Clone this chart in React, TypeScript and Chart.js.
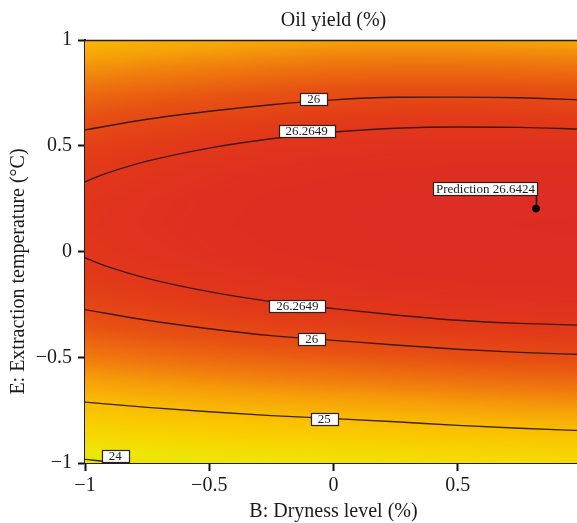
import React, { useEffect, useRef } from "react";
import { Chart, registerables } from "chart.js";

Chart.register(...registerables);

const SERIF = '"Liberation Serif", "DejaVu Serif", "Times New Roman", serif';

// Coded factor levels of the fitted surface
const dryness = [-1, -0.75, -0.5, -0.25, 0, 0.25, 0.5, 0.75, 1];
const temperature = [1, 0.875, 0.75, 0.625, 0.5, 0.375, 0.25, 0.125, 0, -0.125, -0.25, -0.375, -0.5, -0.625, -0.75, -0.875, -1];

// Oil yield (%) — one row per temperature level, one value per dryness level
const yieldRows = [
  [25.04, 25.12, 25.18, 25.24, 25.29, 25.31, 25.30, 25.28, 25.25],
  [25.39, 25.47, 25.53, 25.59, 25.64, 25.66, 25.66, 25.64, 25.62],
  [25.68, 25.76, 25.83, 25.89, 25.93, 25.96, 25.96, 25.95, 25.93],
  [25.92, 26.00, 26.07, 26.12, 26.17, 26.20, 26.20, 26.20, 26.18],
  [26.10, 26.18, 26.25, 26.31, 26.35, 26.38, 26.39, 26.39, 26.38],
  [26.23, 26.31, 26.38, 26.44, 26.48, 26.51, 26.53, 26.53, 26.53],
  [26.30, 26.38, 26.45, 26.51, 26.55, 26.59, 26.61, 26.62, 26.61],
  [26.32, 26.40, 26.47, 26.53, 26.57, 26.61, 26.63, 26.64, 26.65],
  [26.28, 26.36, 26.43, 26.49, 26.53, 26.57, 26.60, 26.62, 26.62],
  [26.19, 26.27, 26.33, 26.39, 26.44, 26.48, 26.51, 26.53, 26.54],
  [26.04, 26.12, 26.18, 26.24, 26.29, 26.33, 26.37, 26.39, 26.41],
  [25.83, 25.91, 25.98, 26.04, 26.08, 26.13, 26.17, 26.20, 26.22],
  [25.57, 25.65, 25.72, 25.77, 25.82, 25.87, 25.91, 25.95, 25.97],
  [25.25, 25.33, 25.40, 25.46, 25.50, 25.55, 25.60, 25.64, 25.67],
  [24.88, 24.96, 25.03, 25.08, 25.13, 25.18, 25.24, 25.28, 25.31],
  [24.45, 24.53, 24.60, 24.66, 24.70, 24.76, 24.82, 24.86, 24.90],
  [23.95, 24.05, 24.12, 24.17, 24.22, 24.27, 24.34, 24.39, 24.43],
];

// Colour scale for the yield surface
const colorLevels = [23.9, 24.2, 24.5, 24.8, 25.0, 25.3, 25.6, 25.9, 26.2, 26.45, 26.7];
const colorRgb = [
  [226, 232, 0],
  [238, 229, 6],
  [246, 215, 0],
  [249, 200, 0],
  [249, 188, 3],
  [246, 160, 8],
  [239, 118, 14],
  [231, 80, 19],
  [226, 57, 25],
  [223, 47, 32],
  [221, 44, 35],
];

// Contour lines (B, E)
const contour26Upper = [
  { x: -1, y: 0.575 }, { x: -0.75, y: 0.625 }, { x: -0.5, y: 0.663 }, { x: -0.25, y: 0.694 },
  { x: 0, y: 0.717 }, { x: 0.25, y: 0.729 }, { x: 0.5, y: 0.73 }, { x: 0.75, y: 0.727 }, { x: 1, y: 0.717 },
];
const contour26Lower = [
  { x: -1, y: -0.275 }, { x: -0.75, y: -0.325 }, { x: -0.5, y: -0.365 }, { x: -0.25, y: -0.398 },
  { x: 0, y: -0.42 }, { x: 0.25, y: -0.442 }, { x: 0.5, y: -0.462 }, { x: 0.75, y: -0.477 }, { x: 1, y: -0.487 },
];
const contour2649Upper = [
  { x: -1, y: 0.329 }, { x: -0.95, y: 0.354 }, { x: -0.9, y: 0.375 }, { x: -0.75, y: 0.427 },
  { x: -0.5, y: 0.489 }, { x: -0.25, y: 0.533 }, { x: 0, y: 0.565 }, { x: 0.25, y: 0.583 },
  { x: 0.5, y: 0.589 }, { x: 0.75, y: 0.587 }, { x: 1, y: 0.578 },
];
const contour2649Lower = [
  { x: -1, y: -0.029 }, { x: -0.95, y: -0.054 }, { x: -0.9, y: -0.075 }, { x: -0.75, y: -0.127 },
  { x: -0.5, y: -0.19 }, { x: -0.25, y: -0.237 }, { x: 0, y: -0.27 }, { x: 0.25, y: -0.3 },
  { x: 0.5, y: -0.325 }, { x: 0.75, y: -0.34 }, { x: 1, y: -0.348 },
];
const contour25 = [
  { x: -1, y: -0.712 }, { x: -0.75, y: -0.737 }, { x: -0.5, y: -0.758 }, { x: -0.25, y: -0.776 },
  { x: 0, y: -0.79 }, { x: 0.25, y: -0.805 }, { x: 0.5, y: -0.822 }, { x: 0.75, y: -0.836 }, { x: 1, y: -0.847 },
];
const contour24 = [{ x: -1, y: -0.983 }, { x: -0.9, y: -0.994 }, { x: -0.82, y: -1 }];

// Contour level tags: text and where they sit on the line
const contourTags = [
  { text: "26", x: -0.079, y: 0.719 },
  { text: "26.2649", x: -0.108, y: 0.569 },
  { text: "26.2649", x: -0.145, y: -0.258 },
  { text: "26", x: -0.088, y: -0.414 },
  { text: "25", x: -0.037, y: -0.79 },
  { text: "24", x: -0.878, y: -0.966 },
];

// Predicted optimum
const predictionPoint = { x: 0.815, y: 0.203 };
const predictionValue = 26.6424;

const axisTicks = [-1, -0.5, 0, 0.5, 1];

function surfaceValue(b: number, e: number): number {
  let i = 0;
  while (i < dryness.length - 2 && b > dryness[i + 1]) i++;
  let r = 0;
  while (r < temperature.length - 2 && e < temperature[r + 1]) r++;
  const tx = Math.min(1, Math.max(0, (b - dryness[i]) / (dryness[i + 1] - dryness[i])));
  const ty = Math.min(1, Math.max(0, (e - temperature[r]) / (temperature[r + 1] - temperature[r])));
  const top = yieldRows[r][i] * (1 - tx) + yieldRows[r][i + 1] * tx;
  const bottom = yieldRows[r + 1][i] * (1 - tx) + yieldRows[r + 1][i + 1] * tx;
  return top * (1 - ty) + bottom * ty;
}

function colorFor(v: number): number[] {
  if (v <= colorLevels[0]) return colorRgb[0];
  const last = colorLevels.length - 1;
  if (v >= colorLevels[last]) return colorRgb[last];
  let k = 0;
  while (v > colorLevels[k + 1]) k++;
  const t = (v - colorLevels[k]) / (colorLevels[k + 1] - colorLevels[k]);
  const a = colorRgb[k];
  const c = colorRgb[k + 1];
  return [a[0] + (c[0] - a[0]) * t, a[1] + (c[1] - a[1]) * t, a[2] + (c[2] - a[2]) * t];
}

const surfacePlugin = {
  id: "surface",
  beforeDatasetsDraw(chart: any) {
    const { ctx, chartArea: a, scales } = chart;
    const left = Math.round(a.left);
    const top = Math.round(a.top);
    const w = Math.round(a.right) - left;
    const h = Math.round(a.bottom) - top;
    const off = document.createElement("canvas");
    off.width = w;
    off.height = h;
    const octx = off.getContext("2d")!;
    const img = octx.createImageData(w, h);
    for (let j = 0; j < h; j++) {
      const e = scales.y.getValueForPixel(top + j + 0.5);
      for (let i = 0; i < w; i++) {
        const b = scales.x.getValueForPixel(left + i + 0.5);
        const c = colorFor(surfaceValue(b, e));
        const p = (j * w + i) * 4;
        img.data[p] = c[0];
        img.data[p + 1] = c[1];
        img.data[p + 2] = c[2];
        img.data[p + 3] = 255;
      }
    }
    octx.putImageData(img, 0, 0);
    ctx.drawImage(off, left, top);
  },
  afterDatasetsDraw(chart: any) {
    const { ctx, chartArea: a, scales } = chart;
    ctx.save();
    // frame line along the top of the plot
    ctx.strokeStyle = "#2a1a14";
    ctx.lineWidth = 1.5;
    ctx.beginPath();
    ctx.moveTo(a.left, a.top + 0.5);
    ctx.lineTo(a.right, a.top + 0.5);
    ctx.stroke();

    ctx.font = `13px ${SERIF}`;
    ctx.textAlign = "center";
    ctx.textBaseline = "middle";
    for (const tag of contourTags) {
      const cx = scales.x.getPixelForValue(tag.x);
      const cy = scales.y.getPixelForValue(tag.y);
      const tw = ctx.measureText(tag.text).width;
      const bw = Math.round(tw + 14);
      const bh = 12;
      const bx = Math.round(cx - bw / 2) + 0.5;
      const by = Math.round(cy - bh / 2) + 0.5;
      ctx.fillStyle = "#ffffff";
      ctx.fillRect(bx, by, bw, bh);
      ctx.strokeStyle = "#2b2220";
      ctx.lineWidth = 1.2;
      ctx.strokeRect(bx, by, bw, bh);
      ctx.fillStyle = "#1c1c1c";
      ctx.fillText(tag.text, cx, cy + 0.5);
    }

    // prediction flag
    const px = scales.x.getPixelForValue(predictionPoint.x);
    const py = scales.y.getPixelForValue(predictionPoint.y);
    const text = `Prediction ${predictionValue}`;
    const tw = ctx.measureText(text).width;
    const bw = Math.round(tw + 5);
    const bh = 13;
    const bx = Math.round(px - bw) + 1.5;
    const by = Math.round(py - 27) + 0.5;
    ctx.strokeStyle = "#111";
    ctx.lineWidth = 1.5;
    ctx.beginPath();
    ctx.moveTo(Math.round(px) + 0.5, by + bh);
    ctx.lineTo(Math.round(px) + 0.5, py);
    ctx.stroke();
    ctx.fillStyle = "#ffffff";
    ctx.fillRect(bx, by, bw, bh);
    ctx.strokeStyle = "#2b2220";
    ctx.lineWidth = 1.2;
    ctx.strokeRect(bx, by, bw, bh);
    ctx.fillStyle = "#1c1c1c";
    ctx.fillText(text, bx + bw / 2, by + bh / 2 + 0.5);
    ctx.restore();
  },
  afterDraw(chart: any) {
    const { ctx, chartArea: a } = chart;
    ctx.save();
    ctx.translate(19, (a.top + a.bottom) / 2 + 20);
    ctx.rotate(-Math.PI / 2);
    ctx.font = `20px ${SERIF}`;
    ctx.fillStyle = "#1a1a1a";
    ctx.textAlign = "center";
    ctx.textBaseline = "middle";
    ctx.fillText("E: Extraction temperature (°C)", 0, 0);
    ctx.restore();
  },
};

const formatTick = (v: number | string) => {
  const n = Math.round(Number(v) * 10) / 10;
  return String(n).replace("-", "\u2212");
};

const lineStyle = {
  showLine: true,
  pointRadius: 0,
  borderColor: "rgba(50, 22, 16, 0.92)",
  borderWidth: 1.4,
  cubicInterpolationMode: "monotone" as const,
  fill: false,
};

export default function App() {
  const canvasRef = useRef<HTMLCanvasElement | null>(null);

  useEffect(() => {
    if (!canvasRef.current) return;
    const tickFont = { family: SERIF, size: 20 };
    const chart = new Chart(canvasRef.current, {
      type: "scatter",
      data: {
        datasets: [
          { ...lineStyle, data: contour26Upper },
          { ...lineStyle, data: contour26Lower },
          { ...lineStyle, data: contour2649Upper },
          { ...lineStyle, data: contour2649Lower },
          { ...lineStyle, data: contour25 },
          { ...lineStyle, data: contour24 },
          {
            data: [predictionPoint],
            pointRadius: 3.5,
            pointBackgroundColor: "#000",
            pointBorderColor: "#000",
            showLine: false,
          },
        ],
      },
      options: {
        responsive: false,
        animation: false,
        events: [],
        layout: { padding: { left: 0, right: 7, top: 0, bottom: 0 } },
        plugins: {
          legend: { display: false },
          tooltip: { enabled: false },
          title: {
            display: true,
            fullSize: false,
            text: "Oil yield (%)",
            color: "#1a1a1a",
            font: { family: SERIF, size: 20, weight: "normal" },
            padding: { top: 9, bottom: 7 },
          },
        },
        scales: {
          x: {
            type: "linear",
            min: -1,
            max: 1,
            afterFit: (s: any) => {
              s.height = 60;
            },
            afterBuildTicks: (s: any) => {
              s.ticks = axisTicks.map((v) => ({ value: v }));
            },
            ticks: { font: tickFont, color: "#1a1a1a", padding: 3, callback: formatTick, maxRotation: 0 },
            grid: { drawOnChartArea: false, drawTicks: true, tickLength: 8, tickColor: "#111", tickWidth: 2 },
            border: { display: true, color: "#2a1a14", width: 2 },
            title: {
              display: true,
              text: "B: Dryness level (%)",
              color: "#1a1a1a",
              font: { family: SERIF, size: 20 },
              padding: { top: 0, bottom: -1 },
            },
          },
          y: {
            type: "linear",
            min: -1,
            max: 1,
            afterFit: (s: any) => {
              s.width = 85;
            },
            afterBuildTicks: (s: any) => {
              s.ticks = axisTicks.map((v) => ({ value: v }));
            },
            ticks: { font: tickFont, color: "#1a1a1a", padding: 6, callback: formatTick },
            grid: { drawOnChartArea: false, drawTicks: true, tickLength: 7, tickColor: "#111", tickWidth: 2 },
            border: { display: true, color: "#2a1a14", width: 2 },
          },
        },
      },
      plugins: [surfacePlugin],
    });
    return () => chart.destroy();
  }, []);

  return (
    <div
      style={{
        position: "fixed",
        left: 0,
        top: 0,
        width: 577,
        height: 523,
        overflow: "hidden",
        background: "#ffffff",
      }}
    >
      <canvas ref={canvasRef} width={590} height={523} style={{ width: 590, height: 523, display: "block" }} />
    </div>
  );
}
